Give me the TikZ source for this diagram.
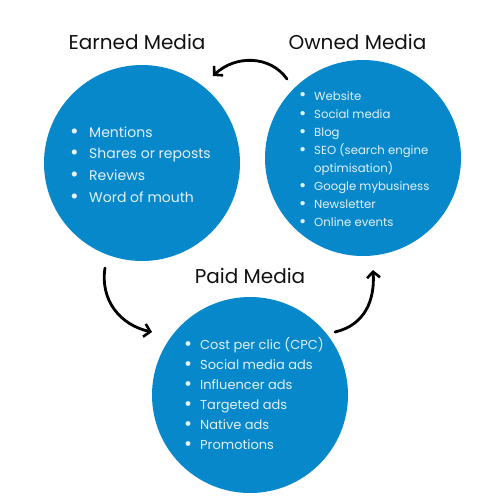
\documentclass[tikz,border=0pt]{standalone}
\usepackage{fontspec}
\setmainfont{Poppins}
\usetikzlibrary{arrows.meta}
\definecolor{mblue}{HTML}{0688CA}
\definecolor{mtext}{HTML}{E4F1F9}
\definecolor{mtitle}{HTML}{111111}
\tikzset{
  circ/.style={circle, fill=mblue, draw=none, minimum size=196pt, inner sep=0pt},
  title/.style={text=mtitle, font=\fontsize{20}{23}\selectfont, inner sep=0pt},
  listtext/.style={text=mtext, inner sep=0pt, anchor=base west},
  arr/.style={line width=2.8pt, line cap=round, -{Straight Barb[length=6pt,width=13pt,line width=2.6pt]}}
}
\newcommand{\bul}[1]{\makebox[#1][l]{\raisebox{-0.15ex}{\scalebox{1.5}{\textbullet}}}}
\begin{document}
\begin{tikzpicture}[x=1pt,y=-1pt]
\useasboundingbox (0,0) rectangle (500,499);
\node[circ] (earned) at (142,163) {};
\node[circ] (owned) at (363,158) {};
\node[circ] (paid) at (250,395) {};
\node[title] (te) at (137,42) {Earned Media};
\node[title] (to) at (357.5,42) {Owned Media};
\node[title] (tp) at (250,276) {Paid Media};
\node[listtext, font=\fontsize{14}{21.7}\selectfont] (le) at (70,137) {%
\begin{tabular}[t]{@{}l@{}l@{}}
\bul{19pt} & Mentions\\
\bul{19pt} & Shares or reposts\\
\bul{19pt} & Reviews\\
\bul{19pt} & Word of mouth
\end{tabular}};
\node[listtext, font=\fontsize{11.7}{18.1}\selectfont] (lo) at (299,100) {%
\begin{tabular}[t]{@{}l@{}l@{}}
\bul{15pt} & Website\\
\bul{15pt} & Social media\\
\bul{15pt} & Blog\\
\bul{15pt} & SEO (search engine\\
 & optimisation)\\
\bul{15pt} & Google mybusiness\\
\bul{15pt} & Newsletter\\
\bul{15pt} & Online events
\end{tabular}};
\node[listtext, font=\fontsize{13}{20}\selectfont] (lp) at (184,349) {%
\begin{tabular}[t]{@{}l@{}l@{}}
\bul{16pt} & Cost per clic (CPC)\\
\bul{16pt} & Social media ads\\
\bul{16pt} & Influencer ads\\
\bul{16pt} & Targeted ads\\
\bul{16pt} & Native ads\\
\bul{16pt} & Promotions
\end{tabular}};
\coordinate (a1s) at (287,79);
\coordinate (a1e) at (213,76);
\coordinate (a2s) at (105,268);
\coordinate (a2e) at (152,332);
\coordinate (a3s) at (335,332);
\coordinate (a3e) at (373,270);
\draw[arr] (a1s) .. controls (270,55) and (235,55) .. (a1e);
\draw[arr] (a2s) .. controls (100,300) and (120,325) .. (a2e);
\draw[arr] (a3s) .. controls (365,325) and (375,300) .. (a3e);
\end{tikzpicture}
\end{document}
